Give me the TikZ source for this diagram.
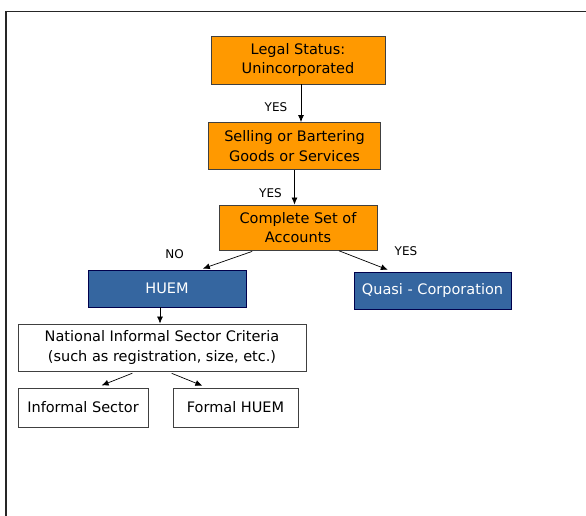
\documentclass[tikz,border=0pt]{standalone}
\usepackage{fontspec}
\setmainfont{DejaVu Sans}
\usetikzlibrary{arrows.meta}
\definecolor{boxorange}{HTML}{FF9900}
\definecolor{boxblue}{HTML}{3566A0}
\begin{document}
\begin{tikzpicture}[x=1pt, y=-1pt,
  box/.style={draw=black!75, line width=0.8pt, inner sep=0pt, align=center, font=\fontsize{14.5}{19.5}\selectfont},
  orangebox/.style={box, fill=boxorange},
  bluebox/.style={box, fill=boxblue, draw=black!70!blue, text=white},
  whitebox/.style={box, fill=white},
  arr/.style={-{Latex[length=7pt,width=6pt]}, line width=0.7pt},
  answer/.style={inner sep=0pt, font=\fontsize{12}{14}\selectfont}]
\useasboundingbox (0,0) rectangle (586,516) ;
\draw [line width=1.2pt, black!85] (6,516) -- (6,11.5) -- (586,11.5) ;

\node [orangebox, minimum width=174pt, minimum height=48pt] (legal) at (298,60)    {Legal Status:\\Unincorporated} ;
\node [orangebox, minimum width=172pt, minimum height=47pt] (sell)  at (294.5,146) {Selling or Bartering\\Goods or Services} ;
\node [orangebox, minimum width=158pt, minimum height=45pt] (acc)   at (298,227.5) {Complete Set of\\Accounts} ;

\node [bluebox, minimum width=158pt, minimum height=37pt] (huem)  at (167,288.5)   {HUEM} ;
\node [bluebox, minimum width=157pt, minimum height=37pt] (quasi) at (432.5,290.5) {Quasi - Corporation} ;

\node [whitebox, minimum width=288pt, minimum height=47pt] (nat)    at (162,347.5)   {National Informal Sector Criteria\\(such as registration, size, etc.)} ;
\node [whitebox, minimum width=130pt, minimum height=39pt] (inf)    at (83,407.5)    {Informal Sector} ;
\node [whitebox, minimum width=125pt, minimum height=39pt] (formal) at (235.5,407.5) {Formal HUEM} ;

\draw [arr] ([xshift=3pt]legal.south) -- ([xshift=3pt]legal.south |- sell.north) ;
\draw [arr] (sell.south) -- (sell.south |- acc.north) ;
\draw [arr, shorten <=3pt, shorten >=3pt] ([xshift=-43pt]acc.south) -- ([xshift=33pt]huem.north) ;
\draw [arr, shorten <=1pt, shorten >=5pt] ([xshift=40pt]acc.south) -- ([xshift=-40pt]quasi.north) ;
\draw [arr] ([xshift=-2pt]nat.north |- huem.south) -- ([xshift=-2pt]nat.north) ;
\draw [arr, shorten <=5pt, shorten >=6pt] ([xshift=-25pt]nat.south) -- ([xshift=13pt]inf.north) ;
\draw [arr, shorten <=5pt, shorten >=5pt] ([xshift=5pt]nat.south) -- ([xshift=-28.5pt]formal.north) ;

\node [answer] (yes1) at (276,107.5) {YES} ;
\node [answer] (yes2) at (270.5,193) {YES} ;
\node [answer] (no1)  at (174.5,254) {NO} ;
\node [answer] (yes3) at (406,251.5) {YES} ;

\end{tikzpicture}
\end{document}
